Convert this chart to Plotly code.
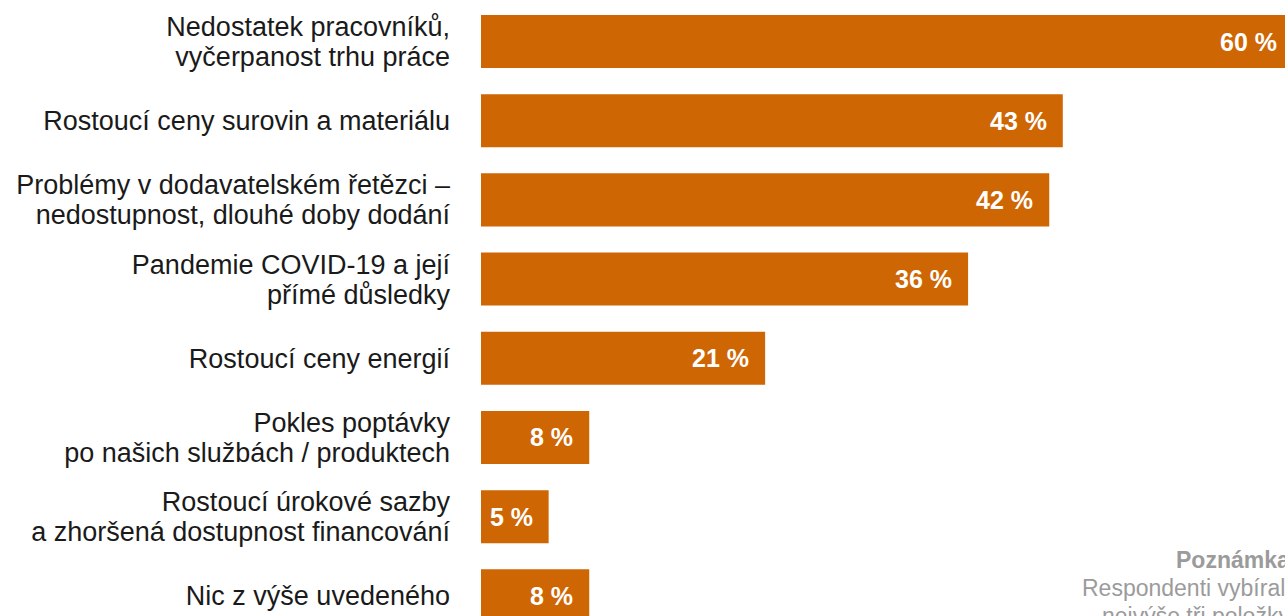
import plotly.graph_objects as go

# Category labels, each as its lines of text
category_lines = [
    ["Nedostatek pracovníků,", "vyčerpanost trhu práce"],
    ["Rostoucí ceny surovin a materiálu"],
    ["Problémy v dodavatelském řetězci –", "nedostupnost, dlouhé doby dodání"],
    ["Pandemie COVID-19 a její", "přímé důsledky"],
    ["Rostoucí ceny energií"],
    ["Pokles poptávky", "po našich službách / produktech"],
    ["Rostoucí úrokové sazby", "a zhoršená dostupnost financování"],
    ["Nic z výše uvedeného"],
]
values = [60, 43, 42, 36, 21, 8, 5, 8]
value_labels = ["60 %", "43 %", "42 %", "36 %", "21 %", "8 %", "5 %", "8 %"]
note_lines = ["<b>Poznámka</b>", "Respondenti vybírali", "nejvýše tři položky"]

BAR_COLOR = "#CF6604"
FONT = "Liberation Sans, Arial, sans-serif"
LINE_OFFSET = 0.19  # half line step in category units (tight leading)

positions = list(range(len(category_lines)))

# tick positions: one tick per text line, tightly spaced around the bar centre
tickvals, ticktext = [], []
for pos, lines in zip(positions, category_lines):
    n = len(lines)
    for k, line in enumerate(lines):
        tickvals.append(pos + (k - (n - 1) / 2) * 2 * LINE_OFFSET)
        ticktext.append(line)

fig = go.Figure()
fig.add_trace(go.Bar(
    x=values,
    y=positions,
    orientation="h",
    marker=dict(color=BAR_COLOR, line=dict(width=0)),
    width=0.67,
    hoverinfo="skip",
))

for pos, v, lab in zip(positions, values, value_labels):
    fig.add_annotation(
        x=v, y=pos, xref="x", yref="y",
        text="<b>" + lab + "</b>",
        showarrow=False,
        xanchor="right", yanchor="middle",
        xshift=-14,
        font=dict(family=FONT, size=25, color="white"),
    )

FIG_W, FIG_H = 1300, 616
L = 481
note_x = (1292 - L) / (FIG_W - L)
for k, line in enumerate(note_lines):
    fig.add_annotation(
        x=note_x, y=1 - (560 + 28 * k) / FIG_H, xref="paper", yref="paper",
        text=line, showarrow=False,
        xanchor="right", yanchor="middle", align="right",
        font=dict(family=FONT, size=23, color="#9b9b9b"),
    )

fig.update_layout(
    width=FIG_W, height=FIG_H,
    margin=dict(l=L, r=0, t=0, b=0, pad=0),
    paper_bgcolor="white", plot_bgcolor="white",
    showlegend=False,
    font=dict(family=FONT, size=27, color="#1a1a1a"),
    xaxis=dict(range=[0, (FIG_W - L) / 13.53], visible=False, fixedrange=True),
    yaxis=dict(
        range=[7.254, -0.524],
        tickmode="array", tickvals=tickvals, ticktext=ticktext,
        showgrid=False, zeroline=False, showline=False,
        ticks="", ticklabelstandoff=30,
        tickfont=dict(family=FONT, size=27, color="#1a1a1a"),
        fixedrange=True,
    ),
)

fig.write_html(
    "out.html",
    config={"displayModeBar": False},
    post_script="document.body.style.margin='0';"
                "document.body.style.overflow='hidden';"
                "document.documentElement.style.overflow='hidden';",
)
